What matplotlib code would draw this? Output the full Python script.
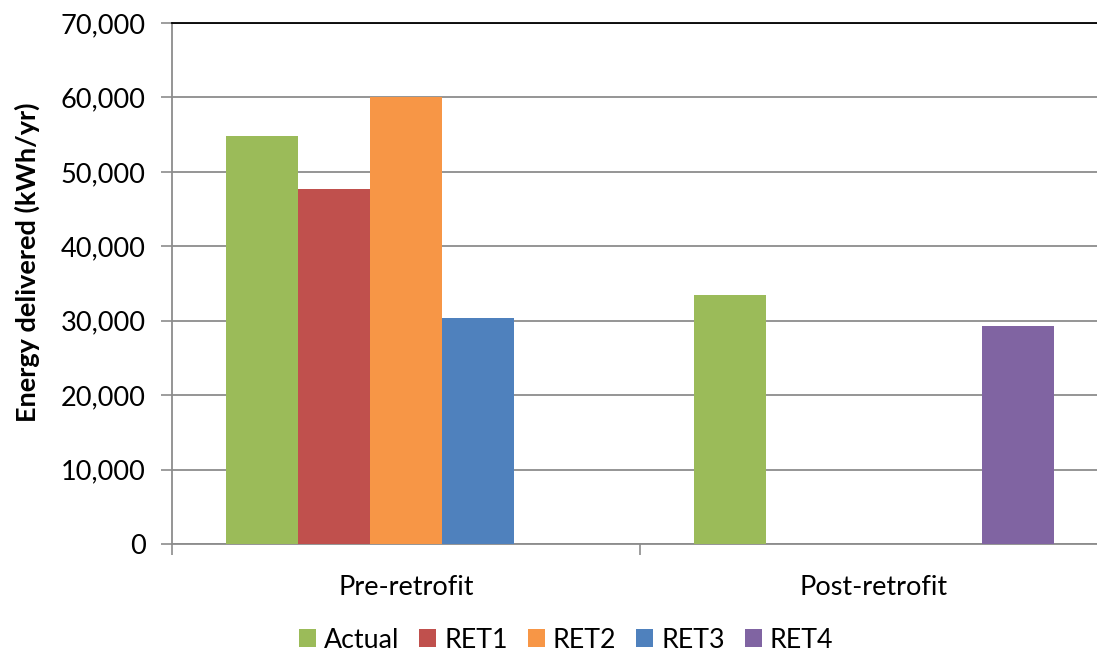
import numpy as np
import matplotlib
matplotlib.use("Agg")
from matplotlib import pyplot as plt
from matplotlib.ticker import FuncFormatter

# data
categories = ["Pre-retrofit", "Post-retrofit"]
series_names = ["Actual", "RET1", "RET2", "RET3", "RET4"]
actual = [54800, 33400]
ret1 = [47700, 0]
ret2 = [60000, 0]
ret3 = [30400, 0]
ret4 = [0, 29300]
colors = ["#9BBB59", "#C0504D", "#F79646", "#4F81BD", "#8064A2"]

plt.rcParams['font.family'] = ['Lato', 'DejaVu Sans']

fig = plt.figure(figsize=(10.97, 6.54), dpi=100)
ax = fig.add_axes([172 / 1097, 1 - 544 / 654, (1108 - 172) / 1097, (544 - 23) / 654])

values = [actual, ret1, ret2, ret3, ret4]
n = len(values)
bar_w = 1.0 / (n + 1.5)  # excel gap width 150%
x = np.arange(len(categories))
for i, (name, vals) in enumerate(zip(series_names, values)):
    offs = (i - (n - 1) / 2) * bar_w
    ax.bar(x + offs, vals, width=bar_w, color=colors[i], label=name, zorder=3)

ax.set_xlim(-0.5, len(categories) - 0.5)
ax.set_ylim(0, 70000)
ax.set_yticks(np.arange(0, 70001, 10000))
ax.yaxis.set_major_formatter(FuncFormatter(lambda v, p: f"{int(v):,}"))
ax.grid(axis='y', color='#8c8c8c', linewidth=1.3, zorder=0)

# category boundary ticks
ax.set_xticks(np.arange(-0.5, len(categories), 1.0))
ax.set_xticklabels([])
ax.set_xticks(x, minor=True)
ax.set_xticklabels(categories, minor=True, fontsize=19.5)
ax.tick_params(axis='x', which='major', length=8, width=1.2, color='#8c8c8c', direction='out')
ax.tick_params(axis='x', which='minor', length=0, pad=22)
ax.tick_params(axis='y', length=8, width=1.2, color='#8c8c8c', labelsize=19.5, pad=11)

for s in ['left', 'bottom']:
    ax.spines[s].set_color('#8c8c8c')
    ax.spines[s].set_linewidth(1.3)
ax.spines['right'].set_visible(False)
ax.spines['top'].set_color('black')
ax.spines['top'].set_linewidth(1.3)

fig.text(27 / 1097, 1 - 262 / 654, "Energy delivered (kWh/yr)", rotation=90,
         ha='center', va='center', fontsize=19.5, fontweight='bold')

fig.legend(loc='center', bbox_to_anchor=(566 / 1097, 1 - 640 / 654), ncol=5, frameon=False,
           fontsize=19.3, handlelength=0.63, handleheight=0.63, handletextpad=0.3,
           columnspacing=0.75)

fig.savefig("out.png", dpi=100)
